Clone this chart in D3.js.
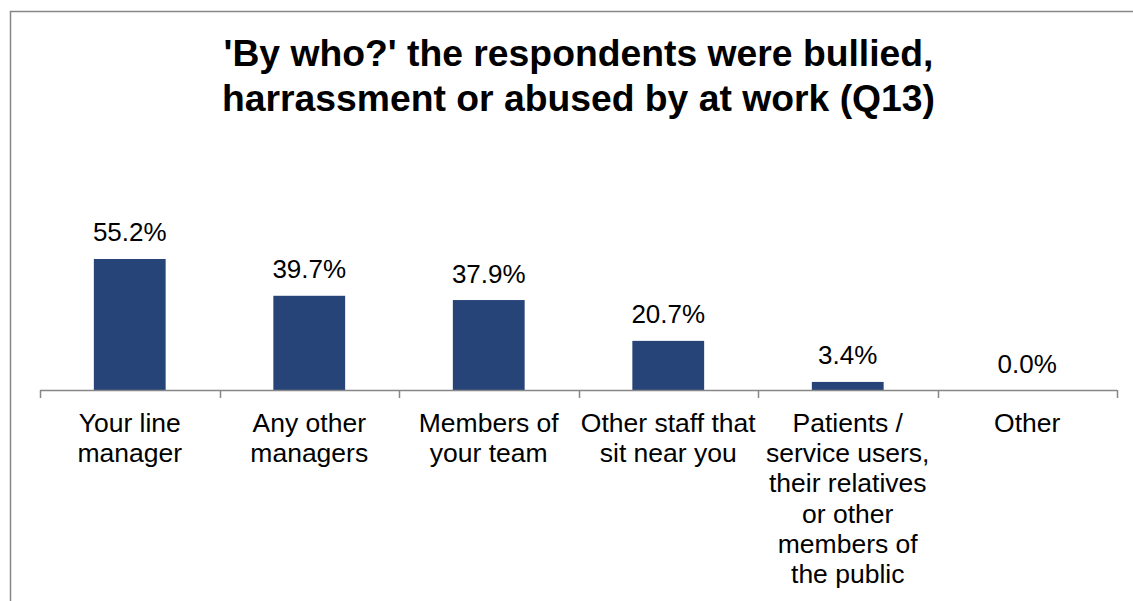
<!DOCTYPE html>
<html>
<head>
<meta charset="utf-8">
<script src="https://cdn.jsdelivr.net/npm/d3@7"></script>
<style>
  html, body { margin: 0; padding: 0; background: #fff; }
  svg { display: block; }
</style>
</head>
<body>
<svg id="chart" width="1133" height="601"></svg>
<script>
// Who respondents were bullied, harassed or abused by (Q13)
const categories = [
  "Your line manager",
  "Any other managers",
  "Members of your team",
  "Other staff that sit near you",
  "Patients / service users, their relatives or other members of the public",
  "Other"
];
const categoryLines = [
  ["Your line", "manager"],
  ["Any other", "managers"],
  ["Members of", "your team"],
  ["Other staff that", "sit near you"],
  ["Patients /", "service users,", "their relatives", "or other", "members of", "the public"],
  ["Other"]
];
const values = [55.2, 39.7, 37.9, 20.7, 3.4, 0.0];
const titleLines = [
  "'By who?' the respondents were bullied,",
  "harrassment or abused by at work (Q13)"
];

const svg = d3.select("#chart");
const W = 1133, H = 601;
const font = "Arial, 'Liberation Sans', sans-serif";

// outer chart frame (runs past the right and bottom edges)
svg.append("rect")
  .attr("x", 10.5).attr("y", 11.5)
  .attr("width", W + 20).attr("height", H + 20)
  .attr("fill", "#fff")
  .attr("stroke", "#878787").attr("stroke-width", 1.5);

// title
const title = svg.append("text")
  .attr("text-anchor", "middle")
  .attr("font-family", font)
  .attr("font-weight", "bold")
  .attr("font-size", 37.3)
  .attr("fill", "#000");
title.selectAll("tspan").data(titleLines).join("tspan")
  .attr("x", 578.5)
  .attr("y", (d, i) => 66 + i * 45)
  .text(d => d);

const plot = { left: 40, right: 1117, base: 390 };

const x = d3.scaleBand()
  .domain(categories)
  .range([plot.left, plot.right])
  .paddingInner(0).paddingOuter(0);

const y = d3.scaleLinear()
  .domain([0, 60])
  .range([plot.base, plot.base - 142.4]);

// bars
const barFrac = 0.4;
svg.append("g").selectAll("rect").data(values).join("rect")
  .attr("x", (d, i) => x(categories[i]) + x.bandwidth() * (1 - barFrac) / 2)
  .attr("width", x.bandwidth() * barFrac)
  .attr("y", d => y(d))
  .attr("height", d => y(0) - y(d))
  .attr("fill", "#264478");

// value labels
svg.append("g").selectAll("text").data(values).join("text")
  .attr("x", (d, i) => x(categories[i]) + x.bandwidth() / 2)
  .attr("y", d => y(d) - 17.5)
  .attr("text-anchor", "middle")
  .attr("font-family", font)
  .attr("font-size", 26)
  .attr("fill", "#000")
  .text(d => d.toFixed(1) + "%");

// category axis with ticks between categories
const axis = svg.append("g");
axis.append("line")
  .attr("x1", plot.left).attr("x2", plot.right)
  .attr("y1", plot.base + 0.5).attr("y2", plot.base + 0.5)
  .attr("stroke", "#878787").attr("stroke-width", 1.5);
const boundaries = categories.map(c => x(c)).concat([plot.right]);
axis.selectAll("line.tick").data(boundaries).join("line")
  .attr("class", "tick")
  .attr("x1", d => Math.round(d) + 0.5).attr("x2", d => Math.round(d) + 0.5)
  .attr("y1", plot.base).attr("y2", plot.base + 8)
  .attr("stroke", "#878787").attr("stroke-width", 1.5);

// category labels
const labels = axis.selectAll("text.cat").data(categoryLines).join("text")
  .attr("class", "cat")
  .attr("text-anchor", "middle")
  .attr("font-family", font)
  .attr("font-size", 26.5)
  .attr("fill", "#000");
labels.each(function(lines, i) {
  const cx = x(categories[i]) + x.bandwidth() / 2;
  d3.select(this).selectAll("tspan").data(lines).join("tspan")
    .attr("x", cx)
    .attr("y", (d, j) => 432 + j * 30.2)
    .text(d => d);
});
</script>
</body>
</html>
